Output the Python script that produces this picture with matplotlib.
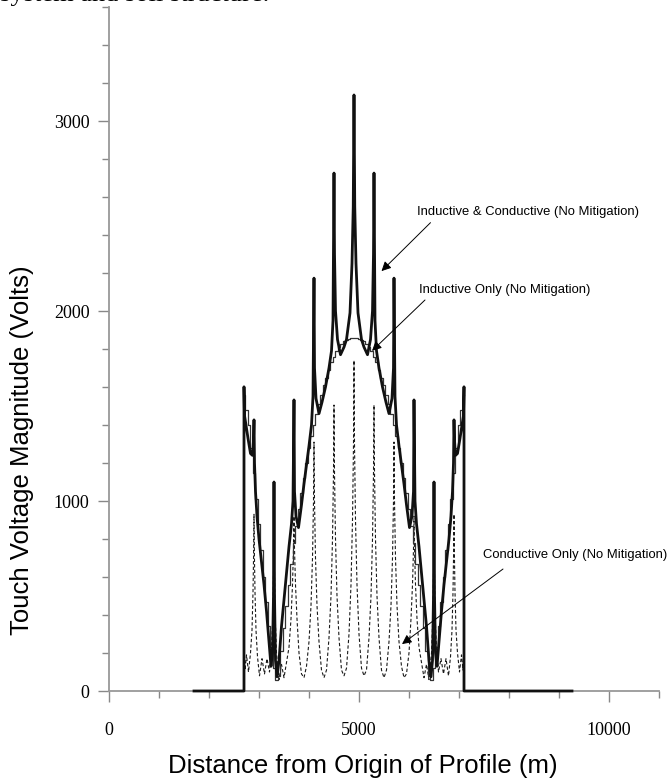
import matplotlib

matplotlib.use("Agg")
import matplotlib.pyplot as plt
from matplotlib.ticker import MultipleLocator

# inductive & conductive (no mitigation), thick solid
comb_x = [1700, 2700, 2700, 2710, 2740, 2780, 2830, 2870, 2890, 2900, 2910, 2930, 2960, 3000,
          3050, 3100, 3150, 3200, 3240, 3270, 3290, 3300, 3310, 3330, 3360, 3400, 3450, 3500,
          3550, 3600, 3650, 3680, 3700, 3710, 3740, 3790, 3850, 3900, 3950, 4000, 4050, 4080,
          4100, 4110, 4140, 4200, 4260, 4330, 4400, 4450, 4480, 4500, 4510, 4530, 4570, 4630,
          4700, 4750, 4820, 4860, 4885, 4900, 4915, 4940, 4980, 5050, 5100, 5170, 5230, 5270,
          5290, 5300, 5320, 5350, 5400, 5470, 5540, 5600, 5660, 5690, 5700, 5720, 5750, 5800,
          5850, 5900, 5950, 6010, 6060, 6090, 6100, 6120, 6150, 6200, 6250, 6300, 6350, 6400,
          6440, 6470, 6490, 6500, 6510, 6530, 6560, 6600, 6650, 6700, 6750, 6800, 6840, 6870,
          6890, 6900, 6910, 6930, 6970, 7020, 7060, 7090, 7100, 7100, 9260]
comb_y = [0, 0, 1601, 1450, 1400, 1330, 1250, 1240, 1320, 1427, 1200, 1050, 920, 800,
          680, 560, 420, 260, 130, 200, 500, 1100, 500, 160, 75, 160, 340, 480,
          620, 760, 880, 1000, 1532, 1050, 920, 860, 980, 1090, 1190, 1290, 1400, 1550,
          2173, 1700, 1540, 1460, 1520, 1600, 1700, 1790, 1950, 2726, 2300, 2000, 1850, 1770,
          1810, 1850, 1990, 2250, 2550, 3137, 2550, 2250, 1990, 1850, 1810, 1770, 1850, 2000,
          2300, 2726, 1950, 1790, 1700, 1600, 1520, 1460, 1540, 1700, 2173, 1550, 1400, 1290,
          1190, 1090, 980, 860, 920, 1050, 1532, 1000, 880, 760, 620, 480, 340, 160,
          75, 160, 500, 1100, 500, 200, 130, 260, 420, 560, 680, 800, 920, 1050,
          1200, 1427, 1320, 1240, 1250, 1330, 1400, 1450, 1601, 0, 0]

# inductive only (no mitigation), thin stepped, every 50 m
ind_x = list(range(2700, 7101, 50))
ind_y = [1560, 1480, 1400, 1280, 1150, 1010, 880, 740, 600, 470,
         340, 230, 120, 60, 80, 210, 330, 450, 560, 670,
         780, 870, 960, 1040, 1120, 1200, 1280, 1340, 1400, 1460,
         1510, 1560, 1610, 1650, 1690, 1730, 1760, 1790, 1810, 1825,
         1840, 1850, 1855, 1858, 1860,
         1858, 1855, 1850, 1840, 1825, 1810, 1790, 1760, 1730, 1690,
         1650, 1610, 1560, 1510, 1460, 1400, 1340, 1280, 1200, 1120,
         1040, 960, 870, 780, 670, 560, 450, 330, 210, 80,
         60, 120, 230, 340, 470, 600, 740, 880, 1010, 1150,
         1280, 1400, 1480, 1560]

# conductive only (no mitigation), dashed
cond_x = [2700, 2720, 2750, 2790, 2830, 2860, 2880, 2892, 2900, 2908, 2920, 2940, 2970, 3010,
          3060, 3110, 3160, 3210, 3250, 3275, 3290, 3300, 3310, 3325, 3350, 3400, 3450, 3500,
          3550, 3600, 3640, 3670, 3690, 3700, 3710, 3730, 3760, 3800, 3850, 3900, 3950, 4000,
          4040, 4070, 4090, 4100, 4110, 4130, 4160, 4200, 4250, 4300, 4350, 4400, 4440, 4470,
          4490, 4500, 4510, 4530, 4560, 4600, 4650, 4700, 4750, 4800, 4840, 4870, 4890, 4900,
          4910, 4930, 4960, 5000, 5050, 5100, 5150, 5200, 5240, 5270, 5290, 5300, 5310, 5330,
          5360, 5400, 5450, 5500, 5550, 5600, 5640, 5670, 5690, 5700, 5710, 5730, 5760, 5800,
          5850, 5900, 5950, 6000, 6040, 6070, 6090, 6100, 6110, 6130, 6160, 6200, 6250, 6300,
          6350, 6400, 6450, 6475, 6490, 6500, 6510, 6525, 6550, 6590, 6640, 6690, 6740, 6790,
          6830, 6860, 6880, 6892, 6900, 6908, 6920, 6940, 6970, 7010, 7050, 7080, 7100]
cond_y = [220, 110, 190, 100, 200, 320, 520, 720, 930, 720, 520, 320, 180, 80,
          170, 90, 170, 100, 220, 380, 620, 900, 620, 380, 200, 60, 140, 70,
          150, 230, 380, 560, 750, 920, 750, 560, 380, 200, 90, 70, 130, 260,
          450, 700, 1000, 1310, 1000, 700, 450, 260, 110, 70, 110, 280, 500, 800,
          1150, 1505, 1150, 800, 500, 280, 110, 80, 120, 300, 560, 900, 1300, 1740,
          1300, 900, 560, 300, 120, 80, 110, 280, 500, 800, 1150, 1505, 1150, 800,
          500, 280, 110, 70, 110, 260, 450, 700, 1000, 1310, 1000, 700, 450, 260,
          130, 70, 90, 200, 380, 560, 750, 920, 750, 560, 380, 230, 150, 70,
          140, 60, 200, 380, 620, 900, 620, 380, 220, 100, 170, 90, 170, 80,
          180, 320, 520, 720, 930, 720, 520, 320, 200, 100, 190, 110, 220]

fig = plt.figure(figsize=(6.72, 7.84), dpi=100)
ax = fig.add_axes([109 / 672, 1 - 691 / 784, 550 / 672, 684 / 784])

ax.plot(cond_x, cond_y, color="#1a1a1a", lw=0.8, dashes=(3, 2), clip_on=False)
ax.plot(ind_x, ind_y, color="#333333", lw=0.9, drawstyle="steps-mid", clip_on=False)
ax.plot(comb_x, comb_y, color="#111111", lw=2.0, clip_on=False, zorder=3)

ax.set_xlim(0, 11000)
ax.set_ylim(0, 3600)
for side in ["top", "right"]:
    ax.spines[side].set_visible(False)
for side in ["left", "bottom"]:
    ax.spines[side].set_color("#999999")
    ax.spines[side].set_linewidth(1.3)

ax.xaxis.set_major_locator(MultipleLocator(5000))
ax.xaxis.set_minor_locator(MultipleLocator(1000))
ax.yaxis.set_major_locator(MultipleLocator(1000))
ax.yaxis.set_minor_locator(MultipleLocator(200))
ax.tick_params(which="both", direction="out", color="#888888", width=1.0)
ax.tick_params(which="major", length=8, pad=14)
ax.tick_params(which="minor", length=5)
ax.tick_params(axis="y", which="major", pad=6)
for lab in ax.get_xticklabels() + ax.get_yticklabels():
    lab.set_family("Liberation Serif")
    lab.set_fontsize(13)

fig.text(363 / 672, 1 - 766 / 784, "Distance from Origin of Profile (m)", family="Liberation Sans",
         fontsize=18.5, ha="center", va="center")
fig.text(22 / 672, 1 - 450 / 784, "Touch Voltage Magnitude (Volts)", family="Liberation Sans",
         fontsize=18.5, ha="center", va="center", rotation=90)

arrow = dict(arrowstyle="-|>", color="black", lw=0.7, mutation_scale=14, shrinkA=0, shrinkB=0)
ax.text(6160, 2520, "Inductive & Conductive (No Mitigation)", fontsize=9.4,
        family="Liberation Sans", va="center")
ax.annotate("", xy=(5450, 2210), xytext=(6430, 2465), arrowprops=arrow)
ax.text(6200, 2110, "Inductive Only (No Mitigation)", fontsize=9.4,
        family="Liberation Sans", va="center")
ax.annotate("", xy=(5260, 1790), xytext=(6320, 2058), arrowprops=arrow)
ax.text(7480, 716, "Conductive Only (No Mitigation)", fontsize=9.4,
        family="Liberation Sans", va="center")
ax.annotate("", xy=(5860, 247), xytext=(7880, 642), arrowprops=arrow)

# caption from the page above, cut off by the top edge as in the source
fig.text(0.0, 1 - 0.5 / 784, "system and soil structure.", family="Liberation Serif",
         fontsize=19, va="baseline", ha="left")

fig.savefig("out.png", dpi=100)
